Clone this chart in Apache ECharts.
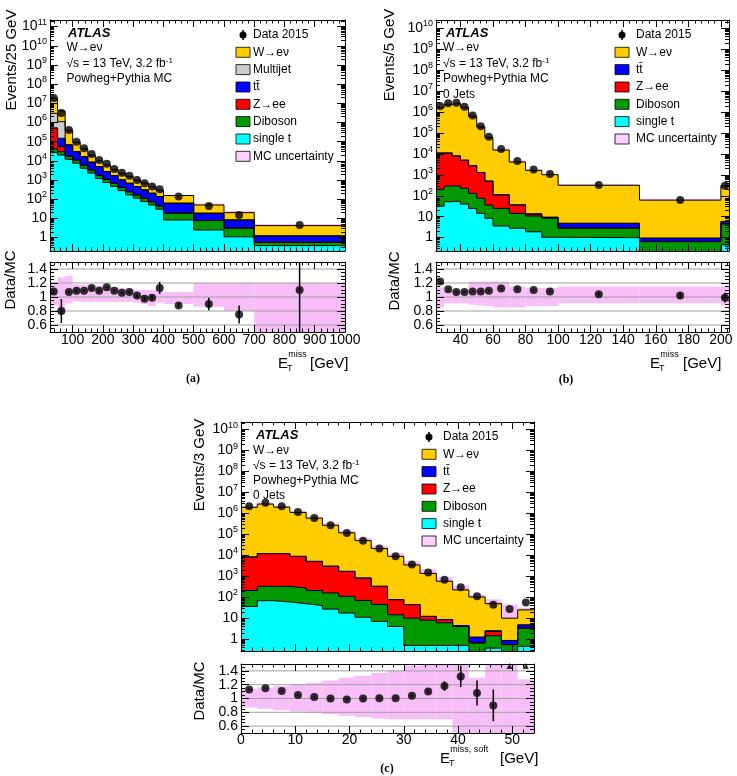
<!DOCTYPE html>
<html>
<head>
<meta charset="utf-8">
<script src="https://cdn.jsdelivr.net/npm/echarts@6.0.0/dist/echarts.min.js"></script>
<style>
html,body{margin:0;padding:0;background:#ffffff;}
#chart{width:737px;height:776px;}
</style>
</head>
<body>
<div id="chart"></div>
<script>
// ===================== DATA =====================
// Panel (a): E_T^miss, W->e nu, all jets (bins of 25 GeV up to 400, then wider)
const edgesA = [25,50,75,100,125,150,175,200,225,250,275,300,325,350,375,400,500,600,700,1000];
const dataA = [1.9e7,3.1e6,4.1e5,1.0e5,4.6e4,2.3e4,1.1e4,7.0e3,3.8e3,2.4e3,1650,1000,690,455,333,137,45,15,4.6];
const wenuA = [1.46e7,2.8e6,3.12e5,6.2e4,2.53e4,1.15e4,5.0e3,3.33e3,1.8e3,1.24e3,860,523,401,255,158,94,31.4,11.7,2.98];
const multijetA = [2.48e6,9.5e5,0,0,0,0,0,0,0,0,0,0,0,0,0,0,0,0,0];
const ttbarA = [2.0e4,9.5e4,5.0e4,1.88e4,1.06e4,5.15e3,3.22e3,1.67e3,1.02e3,605,432,290,194,131,92,43,10.8,5.15,0.64];
const zeeA = [4.58e5,2.5e4,500,200,100,50,30,20,10,5,3,2,1,1,1,0.4,0.1,0.05,0.01];
const dibosonA = [1.5e4,1.0e4,5.5e3,3.5e3,1.9e3,1.0e3,550,340,210,130,78,52,36,23,14,10.3,5.2,2.0,0.19];
const singletopA = [2.7e4,2.0e4,1.2e4,7.5e3,4.1e3,2.3e3,1.2e3,740,460,280,167,113,76,50,30,8.3,2.5,1.1,0.38];
const ratioA = [1.08,0.80,1.07,1.09,1.09,1.13,1.09,1.14,1.09,1.06,1.07,1.02,0.975,0.99,1.13,0.88,0.90,0.75,1.10];
const ratioErrA = [0.015,0.17,0.015,0.015,0.015,0.015,0.015,0.015,0.015,0.015,0.02,0.02,0.025,0.03,0.085,0.03,0.09,0.13,0.65];
const mcUncLoA = [0.88,0.75,0.91,0.94,0.93,0.93,0.93,0.93,0.93,0.93,0.93,0.92,0.90,0.87,0.92,0.90,0.86,0.80,0.40];
const mcUncHiA = [1.22,1.28,1.30,1.18,1.17,1.16,1.16,1.15,1.14,1.13,1.12,1.10,1.10,1.10,1.10,1.07,1.20,1.20,1.20];

// Panel (b): E_T^miss, 0 jets
const edgesB = [25,30,35,40,45,50,55,60,70,80,90,100,150,200,205];
const dataB = [1.95e6,2.6e6,2.8e6,1.8e6,6.8e5,2.1e5,6.6e4,1.7e4,4.6e3,1.8e3,1.1e3,330,63,305];
const wenuB = [1.59e6,2.33e6,2.61e6,1.675e6,6.27e5,1.93e5,6.0e4,1.51e4,4.06e3,1.63e3,1.01e3,312,61,302];
const ttbarB = [5,5,5,4,3,2,1.5,1,0.8,0.8,0.5,2,0.3,1.3];
const zeeB = [1.08e4,1.07e4,7.7e3,4.77e3,2.57e3,1.22e3,464,85,21.5,2.2,0.6,0.1,0.02,0.1];
const dibosonB = [172,243,240,188,105,61.5,27.6,21.4,11.7,8.9,7.4,1.8,0.64,4.05];
const singletopB = [32,52,55,40,25,14.5,8.4,3.6,2.8,1.9,1.04,1.0,0,0.45];
const ratioB = [1.22,1.11,1.07,1.07,1.08,1.08,1.09,1.12,1.11,1.10,1.08,1.04,1.02,0.99];
const ratioErrB = [0.01,0.01,0.01,0.01,0.01,0.01,0.01,0.01,0.01,0.01,0.01,0.02,0.05,0.07];
const mcUncLoB = [0.85,0.91,0.91,0.91,0.89,0.88,0.87,0.85,0.85,0.87,0.87,0.91,0.91,0.88];
const mcUncHiB = [1.14,1.10,1.10,1.10,1.22,1.22,1.22,1.22,1.15,1.13,1.13,1.15,1.15,1.15];

// Panel (c): E_T^miss,soft, 0 jets (3 GeV bins)
const edgesC = [0,3,6,9,12,15,18,21,24,27,30,33,36,39,42,45,48,51,54];
const dataC = [2.2e6,3.2e6,2.2e6,1.17e6,6.0e5,2.7e5,1.16e5,5.0e4,2.1e4,8.9e3,3.6e3,1.5e3,680,295,110,44,27,56];
const wenuC = [1.94e6,2.77e6,1.97e6,1.10e6,5.85e5,2.67e5,1.16e5,4.92e4,2.07e4,8.82e3,3.42e3,1.35e3,568,219,101,46.5,9.1,20];
const ttbarC = [5,5,5,4,3,2,1.5,1,0.8,0.5,0.3,0.2,0.15,0.1,0.55,0.2,0.3,1.4];
const zeeC = [8.09e3,1.17e4,1.17e4,8.6e3,4.9e3,2.84e3,1.59e3,750,285,61.5,34,4,2.4,0.3,0.06,0.86,0.02,0.1];
const dibosonC = [174,262,271,226,170,133,92.5,59,38,10.5,9.5,7.5,5.5,3.5,0.64,1.07,0.54,2.85];
const singletopC = [36,68,59,49,40,27,17.5,11,7,4,0.5,0.5,0.5,0.5,0,0.37,0,0.45];
const ratioC = [1.13,1.15,1.11,1.05,1.02,1.0,0.985,1.0,1.005,1.005,1.04,1.1,1.18,1.32,1.08,0.9,2.7,2.2];
const ratioErrC = [0.01,0.01,0.01,0.01,0.01,0.01,0.01,0.01,0.01,0.01,0.015,0.025,0.07,0.155,0.18,0.23,0.8,0.5];
const mcUncLoC = [0.87,0.85,0.83,0.81,0.79,0.77,0.75,0.73,0.71,0.70,0.70,0.70,0.70,0.40,0.40,0.40,0.40,0.40];
const mcUncHiC = [1.14,1.16,1.18,1.21,1.23,1.26,1.30,1.33,1.37,1.41,1.48,1.60,1.60,1.60,1.30,1.60,4.50,1.28];

// Tick labels
const xTicksA = [100,200,300,400,500,600,700,800,900,1000];
const xTicksB = [40,60,80,100,120,140,160,180,200];
const xTicksC = [0,10,20,30,40,50];
const yTicksA = [1,10,1e2,1e3,1e4,1e5,1e6,1e7,1e8,1e9,1e10,1e11];
const yTicksBC = [1,10,1e2,1e3,1e4,1e5,1e6,1e7,1e8,1e9,1e10];
const ratioTicks = [0.6,0.8,1.0,1.2,1.4];

// ===================== STYLE / BUILD =====================
const FONT = '"Liberation Sans", Arial, Helvetica, sans-serif';
const SERIF = '"Liberation Serif", "Times New Roman", serif';
const COL = {wenu:'#FFCC00', multijet:'#CCCCCC', ttbar:'#0000FF', zee:'#FF0000', diboson:'#009A00', singletop:'#00FFFF', unc:'#F7BEF7', uncLegend:'#FDD0FD'};
const LABEL = {wenu:'W\u2192e\u03BD', multijet:'Multijet', ttbar:'t\u0074\u0304', zee:'Z\u2192ee', diboson:'Diboson', singletop:'single t', unc:'MC uncertainty'};

const option = {animation:false, backgroundColor:'#ffffff', textStyle:{fontFamily:FONT},
  grid:[], xAxis:[], yAxis:[], series:[], graphic:[]};
const G = option.graphic;

function minorLinear(min, max, step, major){
  const out = [];
  const k0 = Math.ceil(min/step - 1e-9), k1 = Math.floor(max/step + 1e-9);
  for (let k = k0; k <= k1; k++){
    const v = +(k*step).toFixed(6);
    const r = v/major;
    if (Math.abs(r - Math.round(r)) > 1e-6) out.push(v);
  }
  return out;
}
function minorLog(min, max){
  const out = [];
  for (let e = Math.floor(Math.log10(min)); e <= Math.ceil(Math.log10(max)); e++){
    for (let k = 2; k <= 9; k++){ const v = k*Math.pow(10,e); if (v>=min && v<=max) out.push(v); }
  }
  return out;
}
function axis(grid, position, type, range, ticks, len, withLine){
  const a = {type, gridIndex:grid, position, min:range[0], max:range[1], z:10, silent:true,
    axisLine:{show:!!withLine, onZero:false, lineStyle:{color:'#000', width:1}},
    axisTick:{show:true, inside:true, length:len, customValues:ticks, lineStyle:{color:'#000', width:1}},
    axisLabel:{show:false}, splitLine:{show:false}, minorTick:{show:false}, axisPointer:{show:false}};
  if (type === 'log') a.logBase = 10;
  return a;
}
function frame(grid, xType, xr, xMaj, xMin, yType, yr, yMaj, yMin, xLab, yLab){
  const xb = axis(grid,'bottom',xType,xr,xMaj,7,true);
  if (xLab) xb.axisLabel = Object.assign({show:true, customValues:xMaj, color:'#000', fontFamily:FONT, fontSize:14}, xLab);
  option.xAxis.push(xb); const xi = option.xAxis.length-1;
  option.xAxis.push(axis(grid,'bottom',xType,xr,xMin,3.5,false));
  option.xAxis.push(axis(grid,'top',xType,xr,xMaj,7,true));
  option.xAxis.push(axis(grid,'top',xType,xr,xMin,3.5,false));
  const yl = axis(grid,'left',yType,yr,yMaj,8,true);
  if (yLab) yl.axisLabel = Object.assign({show:true, customValues:yMaj, color:'#000', fontFamily:FONT, fontSize:14}, yLab);
  option.yAxis.push(yl); const yi = option.yAxis.length-1;
  option.yAxis.push(axis(grid,'left',yType,yr,yMin,4,false));
  option.yAxis.push(axis(grid,'right',yType,yr,yMaj,8,true));
  option.yAxis.push(axis(grid,'right',yType,yr,yMin,4,false));
  return [xi, yi];
}
function rectItem(fill){
  return function(params, api){
    const a = api.coord([api.value(0), api.value(3)]);
    const b = api.coord([api.value(1), api.value(2)]);
    const cs = params.coordSys;
    const shape = echarts.graphic.clipRectByRect({x:a[0], y:a[1], width:b[0]-a[0], height:b[1]-a[1]},
      {x:cs.x, y:cs.y, width:cs.width, height:cs.height});
    return shape ? {type:'rect', shape, style:{fill}} : null;
  };
}
function hlineItem(params, api){
  const a = api.coord([api.value(0), api.value(2)]);
  const b = api.coord([api.value(1), api.value(2)]);
  return {type:'line', shape:{x1:a[0], y1:a[1], x2:b[0], y2:b[1]}, style:{stroke:'#a0a0a0', lineWidth:1}};
}
function vbarItem(params, api){
  const cs = params.coordSys;
  const a = api.coord([api.value(0), api.value(1)]);
  const b = api.coord([api.value(0), api.value(2)]);
  const top = cs.y, bot = cs.y + cs.height;
  const y1 = Math.max(top, Math.min(bot, a[1])), y2 = Math.max(top, Math.min(bot, b[1]));
  if (Math.abs(y1-y2) < 0.5) return null;
  return {type:'line', shape:{x1:a[0], y1, x2:a[0], y2}, style:{stroke:'#000', lineWidth:1.5}};
}
function logLabelFmt(v){
  const e = Math.round(Math.log10(v));
  if (e === 0) return '1';
  if (e === 1) return '10';
  return '10{e|' + e + '}';
}

function panel(P){
  const gT = option.grid.push({left:P.left, top:P.top, width:P.width, height:P.height, outerBoundsMode:'none'}) - 1;
  const gR = option.grid.push({left:P.left, top:P.rTop, width:P.width, height:P.rHeight, outerBoundsMode:'none'}) - 1;
  const xr = [P.edges[0], P.edges[P.edges.length-1]];
  const xMin = minorLinear(xr[0], xr[1], P.xMinorStep, P.xMajorStep);
  const [xT, yT] = frame(gT, 'value', xr, P.xTicks, xMin, 'log', P.yRange, P.yTicks, minorLog(P.yRange[0], P.yRange[1]), null,
    {margin:3, lineHeight:18, formatter:logLabelFmt, rich:{e:{fontSize:9, lineHeight:10, verticalAlign:'top', fontFamily:FONT, color:'#000'}}});
  const [xR, yR] = frame(gR, 'value', xr, P.xTicks, xMin, 'value', [0.5,1.5], ratioTicks, minorLinear(0.5,1.5,0.05,0.2),
    {margin:P.xLabelMargin, formatter:v => String(v)}, {margin:3, formatter:v => String(+(+v).toFixed(1))});

  const n = P.data.length;
  const centers = P.edges.slice(0,-1).map((e,i) => (e + P.edges[i+1]) / 2);
  const cum = []; let acc = new Array(n).fill(0);
  P.comps.forEach(([name, vals]) => { acc = acc.map((a,i) => a + vals[i]); cum.push([name, acc.slice()]); });
  const total = acc;
  const floor = P.yRange[0] / 1000;

  // MC uncertainty band (main)
  option.series.push({type:'custom', xAxisIndex:xT, yAxisIndex:yT, silent:true, z:2, renderItem:rectItem(COL.unc),
    data: total.map((t,i) => [P.edges[i], P.edges[i+1], t*P.lo[i], t*P.hi[i]])});
  // stacked histograms (top-most cumulative first)
  for (let k = cum.length-1; k >= 0; k--){
    const [name, vals] = cum[k];
    const d = vals.map((v,i) => [P.edges[i], Math.max(v, floor)]);
    d.push([P.edges[P.edges.length-1], Math.max(vals[vals.length-1], floor)]);
    option.series.push({type:'line', xAxisIndex:xT, yAxisIndex:yT, step:'end', symbol:'none', showSymbol:false, silent:true, z:2,
      data:d, lineStyle:{color:'#000', width:1}, areaStyle:{color:COL[name], opacity:1, origin:floor}});
  }
  option.series.push({type:'scatter', xAxisIndex:xT, yAxisIndex:yT, silent:true, z:3, symbol:'circle', symbolSize:8,
    itemStyle:{color:'#000'}, data: P.data.map((v,i) => [centers[i], v])});

  // ratio panel
  option.series.push({type:'custom', xAxisIndex:xR, yAxisIndex:yR, silent:true, z:2, renderItem:rectItem(COL.unc),
    data: P.lo.map((lo,i) => [P.edges[i], P.edges[i+1], lo, P.hi[i]])});
  option.series.push({type:'custom', xAxisIndex:xR, yAxisIndex:yR, silent:true, z:2, renderItem:hlineItem,
    data: ratioTicks.map(v => [xr[0], xr[1], v])});
  option.series.push({type:'custom', xAxisIndex:xR, yAxisIndex:yR, silent:true, z:3, renderItem:vbarItem,
    data: P.ratio.map((r,i) => [centers[i], r - P.err[i], r + P.err[i]])});
  option.series.push({type:'scatter', xAxisIndex:xR, yAxisIndex:yR, silent:true, z:4, symbolSize:8, itemStyle:{color:'#000'},
    data: P.ratio.map((r,i) => r > 1.5 ? {value:[centers[i], 1.47], symbol:'triangle', symbolSize:6} : {value:[centers[i], r], symbol:'circle'})});
}

panel({left:50, width:295, top:20, height:231, rTop:262, rHeight:70, yRange:[0.2,2.2e11], yTicks:yTicksA,
  xTicks:xTicksA, xMajorStep:100, xMinorStep:20, xLabelMargin:1, edges:edgesA, data:dataA,
  comps:[['singletop',singletopA],['diboson',dibosonA],['zee',zeeA],['ttbar',ttbarA],['multijet',multijetA],['wenu',wenuA]],
  ratio:ratioA, err:ratioErrA, lo:mcUncLoA, hi:mcUncHiA});
panel({left:436, width:293, top:20, height:231, rTop:262, rHeight:70, yRange:[0.23,2.5e10], yTicks:yTicksBC,
  xTicks:xTicksB, xMajorStep:20, xMinorStep:4, xLabelMargin:1, edges:edgesB, data:dataB,
  comps:[['singletop',singletopB],['diboson',dibosonB],['zee',zeeB],['ttbar',ttbarB],['wenu',wenuB]],
  ratio:ratioB, err:ratioErrB, lo:mcUncLoB, hi:mcUncHiB});
panel({left:241, width:293, top:422, height:229, rTop:664, rHeight:69, yRange:[0.27,2.3e10], yTicks:yTicksBC,
  xTicks:xTicksC, xMajorStep:10, xMinorStep:2, xLabelMargin:0, edges:edgesC, data:dataC,
  comps:[['singletop',singletopC],['diboson',dibosonC],['zee',zeeC],['ttbar',ttbarC],['wenu',wenuC]],
  ratio:ratioC, err:ratioErrC, lo:mcUncLoC, hi:mcUncHiC});

// ===================== TEXT / LEGENDS =====================
function txt(x, y, text, o, extra){
  G.push(Object.assign({type:'text', x, y, z:100, silent:true,
    style:Object.assign({text, fill:'#000', fontFamily:FONT, fontSize:12, align:'left', verticalAlign:'middle'}, o || {})}, extra || {}));
}
function atlasBlock(xA, xT, ys, lines){
  txt(xA, ys[0], 'ATLAS', {fontWeight:'bold', fontStyle:'italic', fontSize:13});
  lines.forEach((l,i) => {
    if (l === 'sqrt') txt(xT, ys[i+1], '\u221As = 13 TeV, 3.2 fb{e|-1}', {lineHeight:14, rich:{e:{fontSize:8, lineHeight:8, verticalAlign:'top', fontFamily:FONT, fill:'#000'}}});
    else txt(xT, ys[i+1], l);
  });
}
function legendBlock(boxX, textX, rows, items){
  items.forEach((it, i) => {
    const y = rows[i];
    if (it === 'data'){
      const cx = boxX + 7;
      G.push({type:'line', z:100, silent:true, shape:{x1:cx, y1:y-5, x2:cx, y2:y+5}, style:{stroke:'#000', lineWidth:1.5}});
      G.push({type:'circle', z:100, silent:true, shape:{cx, cy:y, r:3.5}, style:{fill:'#000'}});
      txt(textX, y, 'Data 2015');
    } else {
      G.push({type:'rect', z:100, silent:true, shape:{x:boxX, y:y-5, width:14, height:10},
        style:{fill: it === 'unc' ? COL.uncLegend : COL[it], stroke:'#000', lineWidth:0.8}});
      txt(textX, y, LABEL[it]);
    }
  });
}
function xTitle(xE, y, sup, gevX){
  txt(xE, y, 'E', {fontSize:15});
  txt(xE + 10.3, y - 9, sup, {fontSize:9});
  txt(xE + 9, y + 5, 'T', {fontSize:9});
  txt(gevX, y, '[GeV]', {fontSize:15});
}

atlasBlock(68, 66.5, [33,48,63.5,79], ['W\u2192e\u03BD','sqrt','Powheg+Pythia MC']);
atlasBlock(446, 443, [33,48,63.5,79,94.5], ['W\u2192e\u03BD','sqrt','Powheg+Pythia MC','0 Jets']);
atlasBlock(256, 253, [435,451,466,481,496], ['W\u2192e\u03BD','sqrt','Powheg+Pythia MC','0 Jets']);

legendBlock(236, 253, [35,52.3,69.6,87,104.3,121.6,139,156.3], ['data','wenu','multijet','ttbar','zee','diboson','singletop','unc']);
legendBlock(615, 636, [35,52.3,69.6,87,104.3,121.6,139], ['data','wenu','ttbar','zee','diboson','singletop','unc']);
legendBlock(422, 443, [437,454.3,471.6,489,506.3,523.6,541], ['data','wenu','ttbar','zee','diboson','singletop','unc']);

txt(12, 60, 'Events/25 GeV', {fontSize:15, align:'center'}, {rotation:Math.PI/2});
txt(390, 55, 'Events/5 GeV', {fontSize:15, align:'center'}, {rotation:Math.PI/2});
txt(200, 465, 'Events/3 GeV', {fontSize:15, align:'center'}, {rotation:Math.PI/2});
txt(11, 280, 'Data/MC', {fontSize:15, align:'center'}, {rotation:Math.PI/2});
txt(395, 281, 'Data/MC', {fontSize:15, align:'center'}, {rotation:Math.PI/2});
txt(200, 691, 'Data/MC', {fontSize:15, align:'center'}, {rotation:Math.PI/2});

xTitle(278, 364, 'miss', 310);
xTitle(650, 364, 'miss', 683);
xTitle(440, 759, 'miss, soft', 500);

txt(193, 379, '(a)', {fontFamily:SERIF, fontWeight:'bold', fontSize:12, align:'center'});
txt(566, 380, '(b)', {fontFamily:SERIF, fontWeight:'bold', fontSize:12, align:'center'});
txt(387, 769, '(c)', {fontFamily:SERIF, fontWeight:'bold', fontSize:12, align:'center'});

const chart = echarts.init(document.getElementById('chart'), null, {renderer:'canvas'});
chart.setOption(option);
</script>
</body>
</html>
